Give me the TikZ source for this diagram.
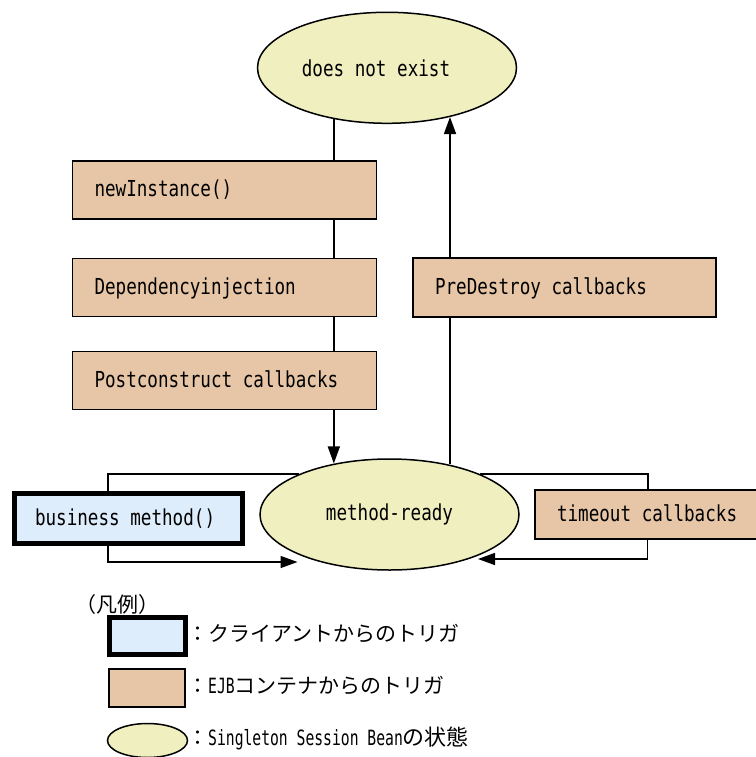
\documentclass[tikz,border=0pt]{standalone}
\usepackage{fontspec}
\usetikzlibrary{shapes.geometric,arrows.meta,calc}
\newfontfamily\monofnt[FakeStretch=0.8]{DejaVu Sans Mono}
\newfontfamily\monolgfnt[FakeStretch=0.7]{DejaVu Sans Mono}
\newfontfamily\jpfnt{Noto Sans CJK JP}
\definecolor{statefill}{RGB}{240,239,192}
\definecolor{ejbfill}{RGB}{230,198,166}
\definecolor{clientfill}{RGB}{221,237,252}
\newcommand{\boxfont}{\monofnt\fontsize{22}{26}\selectfont}
\newcommand{\lgmono}{\monolgfnt\fontsize{21}{25}\selectfont}

\begin{document}
\begin{tikzpicture}[x=1pt,y=-1pt,
  every node/.style={font=\boxfont},
  state/.style={ellipse,draw,line width=1.5pt,fill=statefill,inner sep=0pt,
    minimum width=259pt,minimum height=111pt},
  ejb/.style={rectangle,draw,line width=1.5pt,fill=ejbfill,inner xsep=22pt,
    inner ysep=0pt,align=flush left,minimum height=58pt,text height=17.5pt,text depth=4.5pt},
  client/.style={rectangle,draw,line width=5pt,fill=clientfill,inner xsep=20.5pt,
    inner ysep=0pt,align=flush left,minimum height=50pt,text height=17.5pt,text depth=4.5pt},
  legendtext/.style={anchor=base west,inner sep=0pt,font=\jpfnt\fontsize{21}{25}\selectfont},
  flow/.style={line width=1.5pt},
  arr/.style={flow,-{Triangle[length=17pt,width=12pt]}},
]
\useasboundingbox (0,0) rectangle (755,757);

% states
\node[state] (dne) at (387,67.8) {does not exist\hspace*{22pt}};
\node[state] (mr) at (389.5,514.5) {method-ready};

% container triggers
\node[ejb,text width=260pt] (ni) at (224.5,190) {newInstance()};
\node[ejb,text width=260pt] (di) at (224.5,287.5) {Dependencyinjection};
\node[ejb,text width=260pt] (pc) at (224.5,380.5) {Postconstruct callbacks};
\node[ejb,text width=259pt,minimum height=59pt] (pd) at (564.5,287.5) {PreDestroy callbacks};
\node[ejb,text width=191pt,minimum height=49pt] (to) at (652.5,514.5) {timeout callbacks};

% client trigger
\node[client,text width=187pt] (bm) at (128.5,518.5) {business method()};

% creation path
\coordinate (lx) at (dne.-136);
\draw[flow] (lx) -- (lx |- ni.north);
\draw[flow] (ni.south -| lx) -- (di.north -| lx);
\draw[flow] (di.south -| lx) -- (pc.north -| lx);
\draw[arr] (pc.south -| lx) -- (lx |- mr.137);

% removal path
\coordinate (rx) at (dne.-38);
\draw[flow] (rx |- mr.40) -- (rx |- pd.south);
\draw[arr] (pd.north -| rx) -- (rx);

% business method loop
\coordinate (mrinL) at ($(mr.center)+(-92,47.5)$);
\draw[flow] ($(bm.north west)+(96,0)$) |- (mr.156);
\draw[arr] ($(bm.south west)+(96,0)$) |- (mrinL);

% timeout loop
\coordinate (mrinR) at ($(mr.center)+(88.5,44.5)$);
\draw[flow] (mr.24) -| ($(to.north west)+(113.5,0)$);
\draw[arr] ($(to.south west)+(113,0)$) |- (mrinR);

% legend
\node[legendtext] (lg) at (75,612) {（凡例）};
\node[rectangle,draw,line width=5pt,fill=clientfill,minimum width=76pt,minimum height=37pt,inner sep=0pt] (lgc) at (147.5,636) {};
\node[rectangle,draw,line width=1.5pt,fill=ejbfill,minimum width=76pt,minimum height=38pt,inner sep=0pt] (lge) at (147,688) {};
\node[ellipse,draw,line width=1.5pt,fill=statefill,minimum width=80pt,minimum height=34pt,inner sep=0pt] (lgs) at (147.5,740.5) {};
\node[legendtext] (lt1) at (187,641.5) {：クライアントからのトリガ};
\node[legendtext] (lt2) at (187,693) {：{\lgmono EJB}コンテナからのトリガ};
\node[legendtext] (lt3) at (187,745.5) {：{\lgmono Singleton Session Bean}{\fontsize{22}{26}\selectfont の状態}};
\end{tikzpicture}
\end{document}
